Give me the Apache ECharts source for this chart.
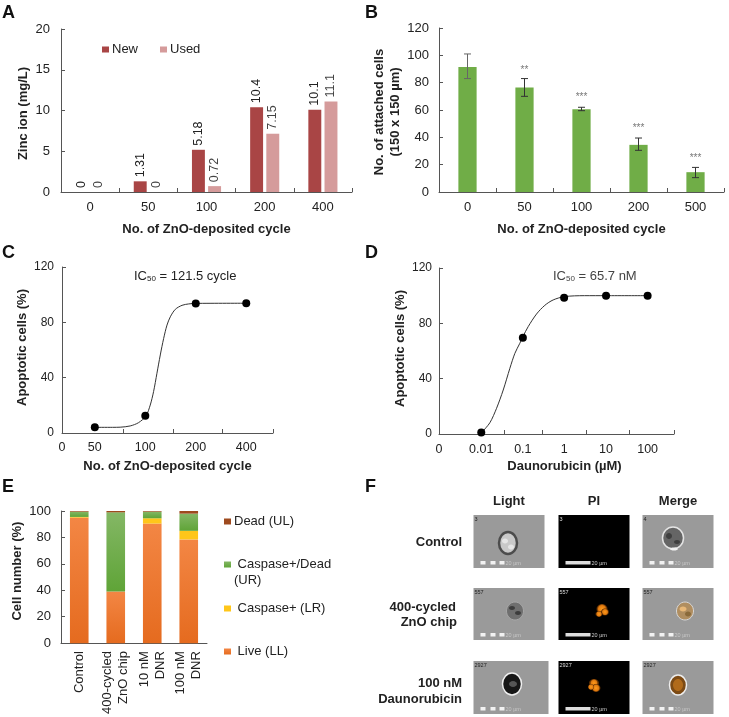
<!DOCTYPE html>
<html><head><meta charset="utf-8">
<style>html,body{margin:0;padding:0;background:#fff}#c{width:729px;height:717px}</style>
<script src="https://cdn.jsdelivr.net/npm/echarts@6/dist/echarts.min.js"></script>
</head><body><div id="c"></div>
<script>
// Panel A
const aCats = ['0','50','100','200','400'];
const aNew = [0,1.31,5.18,10.4,10.1];
const aUsed = [0,0,0.72,7.15,11.1];
// Panel B
const bCats = ['0','50','100','200','500'];
const bVals = [91.5,76.5,60.5,34.5,14.5];
const bLow = [83,70,59.5,30.5,10.5];
const bHigh = [101,83,62,39.5,18];
const bSig = ['','**','***','***','***'];
const bSigY = [null,89,69,46.5,25];
// Panel C (x = position on the drawn axis)
const cTickPos = [0,0.65,1.65,2.65,3.65];
const cTickLabels = ['0','50','100','200','400'];
const cMinorTicks = [0,1.22,2.2,3.18,4.18];
const cPoints = [[0.65,4.1],[1.65,12.5],[2.65,93.7],[3.65,93.8]];
const cCurve = [[0.65,4.1],[1.0,4.1],[1.152,4.2],[1.351,5.1],[1.517,7.5],[1.663,12.3],[1.748,20.2],[1.814,29.9],[1.881,43.2],[1.947,56.4],[2.014,68.4],[2.08,78],[2.146,84],[2.245,89.4],[2.378,92.3],[2.51,93.3],[2.65,93.7],[3.65,93.8]];
// Panel D
const dTickPos = [0,1.016,2.016,3.008,4.016,5.016];
const dTickLabels = ['0','0.01','0.1','1','10','100'];
const dMinorTicks = [0,1.56,2.48,3.54,4.58,5.65];
const dPoints = [[1.016,1],[2.016,69.5],[3.008,98.5],[4.016,100],[5.016,100]];
const dCurve = [[1.024,1],[1.224,8.2],[1.384,18.6],[1.544,31.8],[1.704,47.5],[1.824,58.3],[1.944,65.6],[2.016,70.3],[2.144,77.6],[2.344,86.7],[2.544,93],[2.744,96.9],[3.016,99.3],[3.5,100],[4.016,100],[5.016,100]];
// Panel E
const eCats = ['Control','400-cycled\nZnO chip','10 nM\nDNR','100 nM\nDNR'];
const eLive = [95,39,90.5,78.5];
const eLR = [0.5,0,4,6.5];
const eUR = [4,60,5,13];
const eUL = [0.5,1,0.5,2];

const FONT = '"Liberation Sans", Arial, sans-serif';
const INK = '#222';
const AX = '#555';

function yAxis(i, max, interval, name, nameGap, margin, fs, namePad){
  return {gridIndex:i,type:'value',min:0,max,interval,name,nameLocation:'middle',nameGap,
    nameTextStyle:{fontFamily:FONT,fontWeight:'bold',fontSize:13,color:INK,lineHeight:16,padding:namePad||0},
    axisLine:{show:true,lineStyle:{color:AX,width:1}},
    axisTick:{show:true,inside:true,length:4,lineStyle:{color:AX}},
    axisLabel:{margin,fontFamily:FONT,fontSize:fs||13,color:INK},splitLine:{show:false}};
}
function catAxis(i, data, name, nameGap, margin){
  return {gridIndex:i,type:'category',data,name,nameLocation:'middle',nameGap,
    nameTextStyle:{fontFamily:FONT,fontWeight:'bold',fontSize:13,color:INK},
    axisLine:{lineStyle:{color:AX,width:1}},
    axisTick:{show:true,inside:true,length:4,alignWithLabel:false,lineStyle:{color:AX}},
    axisLabel:{margin,fontFamily:FONT,fontSize:13,color:INK,interval:0},splitLine:{show:false}};
}
function posAxis(i, max, pos, labels, minor, name, nameGap, margin, namePad){
  return {gridIndex:i,type:'value',min:0,max,name,nameLocation:'middle',nameGap,
    nameTextStyle:{fontFamily:FONT,fontWeight:'bold',fontSize:13,color:INK,padding:namePad||0},
    axisLine:{lineStyle:{color:AX,width:1}},
    axisTick:{show:true,inside:true,length:4,customValues:minor,lineStyle:{color:AX}},
    axisLabel:{margin,fontFamily:FONT,fontSize:12.5,color:INK,customValues:pos,showMinLabel:true,showMaxLabel:true,
      formatter:v=>labels[pos.indexOf(v)]},
    splitLine:{show:false}};
}
function vGrad(top,bottom){return new echarts.graphic.LinearGradient(0,0,0,1,[{offset:0,color:top},{offset:1,color:bottom}]);}

const labelA = c=>({show:true,position:'top',rotate:90,align:'left',verticalAlign:'middle',distance:4,fontFamily:FONT,fontSize:12.5,color:c});

const series = [
  {name:'New',type:'bar',xAxisIndex:0,yAxisIndex:0,data:aNew,barGap:'25%',barCategoryGap:'50%',itemStyle:{color:'#A94545'},label:labelA('#222')},
  {name:'Used',type:'bar',xAxisIndex:0,yAxisIndex:0,data:aUsed,itemStyle:{color:'#D59B9B'},label:labelA('#444')},
  {name:'Attached',type:'bar',xAxisIndex:1,yAxisIndex:1,data:bVals,barCategoryGap:'68%',itemStyle:{color:'#70AD47'}},
  {name:'Error',type:'custom',xAxisIndex:1,yAxisIndex:1,z:5,data:bCats.map((c,i)=>[i,bLow[i],bHigh[i]]),
    renderItem(p,api){
      const lo=api.coord([api.value(0),api.value(1)]),hi=api.coord([api.value(0),api.value(2)]);
      const st={stroke:p.dataIndex===0?'#666':'#333',lineWidth:1,fill:null};
      const line=(x1,y1,x2,y2)=>({type:'line',shape:{x1,y1,x2,y2},style:st});
      return {type:'group',children:[line(lo[0],lo[1],hi[0],hi[1]),line(lo[0]-3.5,lo[1],lo[0]+3.5,lo[1]),line(hi[0]-3.5,hi[1],hi[0]+3.5,hi[1])]};
    }},
  {name:'Significance',type:'scatter',xAxisIndex:1,yAxisIndex:1,symbolSize:0,z:6,
    data:bSigY.map((y,i)=>({value:[i,y],sig:bSig[i]})),
    label:{show:true,position:'inside',fontFamily:FONT,fontSize:10,color:'#555',formatter:p=>p.data.sig}},
  {name:'C curve',type:'line',xAxisIndex:2,yAxisIndex:2,data:cCurve,smooth:0.3,showSymbol:false,lineStyle:{color:'#333',width:1}},
  {name:'C points',type:'scatter',xAxisIndex:2,yAxisIndex:2,data:cPoints,symbolSize:8,itemStyle:{color:'#000',opacity:1},z:4},
  {name:'D curve',type:'line',xAxisIndex:3,yAxisIndex:3,data:dCurve,smooth:0.3,showSymbol:false,lineStyle:{color:'#333',width:1}},
  {name:'D points',type:'scatter',xAxisIndex:3,yAxisIndex:3,data:dPoints,symbolSize:8,itemStyle:{color:'#000',opacity:1},z:4},
  {name:'Live (LL)',type:'bar',stack:'e',xAxisIndex:4,yAxisIndex:4,data:eLive,barCategoryGap:'49%',itemStyle:{color:vGrad('#F38644','#E56B1F')}},
  {name:'Caspase+ (LR)',type:'bar',stack:'e',xAxisIndex:4,yAxisIndex:4,data:eLR,itemStyle:{color:'#FFC61A'}},
  {name:'Caspase+/Dead (UR)',type:'bar',stack:'e',xAxisIndex:4,yAxisIndex:4,data:eUR,itemStyle:{color:vGrad('#84B765','#5FA437')}},
  {name:'Dead (UL)',type:'bar',stack:'e',xAxisIndex:4,yAxisIndex:4,data:eUL,itemStyle:{color:'#9E4A1E'}}
];

function lg(name,left,top,fmt,iw,gap){
  return {data:[].concat(name).map(n=>({name:n,icon:'rect'})),left,top,orient:'horizontal',itemWidth:iw||7,itemHeight:6,itemGap:gap||22,padding:0,selectedMode:false,
    textStyle:{fontFamily:FONT,fontSize:13,color:'#222',padding:[0,0,0,-2]},formatter:fmt};
}

// ---- non-data text and the micrograph panel (F) ----
const g = [];
function txt(s,x,y,o={}){
  g.push({type:'text',x,y,style:Object.assign({text:s,fontFamily:FONT,fontSize:13,fill:INK,textAlign:'left',textVerticalAlign:'middle'},o)});
}
[['A',2,13],['B',365,13],['C',2,253],['D',365,253],['E',2,487],['F',365,487]].forEach(a=>txt(a[0],a[1],a[2],{fontSize:18,fontWeight:'bold',fill:'#111'}));

function ic(unit,x,y,col){
  g.push({type:'text',x,y,style:{text:'{a|IC}{s|50}{a| = '+unit+'}',fontFamily:FONT,textVerticalAlign:'middle',textAlign:'left',
    rich:{a:{fontFamily:FONT,fontSize:13,fill:col,color:col},s:{fontFamily:FONT,fontSize:8,fill:col,color:col,verticalAlign:'bottom',padding:[6,0,0,0]}}}});
}
ic('121.5 cycle',134,276,'#222');
ic('65.7 nM',553,276,'#444');
txt('(UR)',234,580,{fontSize:13});

const rowsF = [
 {y:515,h:53,lbl:['3','3','4']},
 {y:588,h:52,lbl:['557','557','557']},
 {y:661,h:53,lbl:['2927','2927','2927']}
];
const colX = [473.5,558.5,642.5], colW = 71;
txt('Light',509,501,{fontSize:13,fontWeight:'bold',textAlign:'center'});
txt('PI',594,501,{fontSize:13,fontWeight:'bold',textAlign:'center'});
txt('Merge',678,501,{fontSize:13,fontWeight:'bold',textAlign:'center'});
txt('Control',462,542,{fontSize:13,fontWeight:'bold',textAlign:'right'});
txt('400-cycled',456,607,{fontSize:13,fontWeight:'bold',textAlign:'right'});
txt('ZnO chip',457,622,{fontSize:13,fontWeight:'bold',textAlign:'right'});
txt('100 nM',462,683,{fontSize:13,fontWeight:'bold',textAlign:'right'});
txt('Daunorubicin',462,699,{fontSize:13,fontWeight:'bold',textAlign:'right'});

function rect(x,y,w,h,fill){g.push({type:'rect',shape:{x,y,width:w,height:h},style:{fill}});}
function ell(cx,cy,rx,ry,fill,stroke,lw){g.push({type:'ellipse',shape:{cx,cy,rx,ry},style:{fill,stroke:stroke||null,lineWidth:lw||0}});}
rowsF.forEach((r,ri)=>{
  colX.forEach((x,ci)=>{
    const extra = (ri===2&&ci===0)?4:0;
    rect(x,r.y,colW+extra,r.h,ci===1?'#000':'#9a9a9a');
    txt(r.lbl[ci],x+1,r.y+4,{fontSize:5.5,fill:ci===1?'#ddd':'#222'});
    const by=r.y+r.h-6;
    if(ci===1){rect(x+7,by-1,25,3.5,'#ddd');txt('20 µm',x+33,by+1,{fontSize:5.5,fill:'#ccc'});}
    else{[7,17,26].forEach(d=>rect(x+d,by-1,5,3.5,'#f2f2f2'));txt('20 µm',x+32,by+1,{fontSize:5.5,fill:'#c8c8c8'});}
  });
});
// Light column cells
ell(508,543,9,11,'#c9c9c9','#4c4c4c',2.5);
ell(505,541,3,2.5,'#e6e6e6');ell(511,547,3,2.5,'#e6e6e6');
ell(515,611,8.5,9,'#6f6f6f','#a8a8a8',1);ell(512,608,3,2,'#3c3c3c');ell(518,613,3,2,'#3c3c3c');
ell(512,684,9.5,11,'#161616','#f0f0f0',1.5);ell(513,684,4,3,'#555');
// PI column cells
const orange = new echarts.graphic.RadialGradient(0.5,0.5,0.5,[{offset:0,color:'#ff9a1a'},{offset:0.7,color:'#e07a10'},{offset:1,color:'#5a2c00'}]);
ell(602,609,5.5,5,orange);ell(605,612,4,3.5,orange);ell(599,614,3.5,3,orange);
ell(594,683,5,4,orange);ell(596,688,4.5,4,orange);ell(591,687,3,3,orange);
// Merge column cells
ell(673,538,10.5,11,'#656565','#e4e4e4',1.5);ell(669,536,3,3,'#3f3f3f');ell(677,542,3,2,'#3f3f3f');ell(674,549,4,1.5,'#f2f2f2');
ell(685,611,8.5,9,'#b08e60','#d8d8d8',1);ell(683,609,3.5,2.5,'#e8b878');ell(688,614,3,2.5,'#8a6a3a');
ell(678,685,8.5,10,'#7c4a14','#eeeeee',1.5);ell(678,685,5,6,'#b06a1a');

const option = {
  animation:false,backgroundColor:'#fff',textStyle:{fontFamily:FONT},
  grid:[
    {left:61,top:29,width:291,height:163},
    {left:439,top:28,width:285,height:164},
    {left:62,top:267,width:211,height:166},
    {left:439,top:268,width:235,height:166},
    {left:61,top:511,width:146,height:133}
  ],
  xAxis:[
    catAxis(0,aCats,'No. of ZnO-deposited cycle',31,9),
    catAxis(1,bCats,'No. of ZnO-deposited cycle',31,9),
    posAxis(2,4.18,cTickPos,cTickLabels,cMinorTicks,'No. of ZnO-deposited cycle',27,8),
    posAxis(3,5.65,dTickPos,dTickLabels,dMinorTicks,'Daunorubicin (µM)',26,9,[0,0,0,16]),
    Object.assign(catAxis(4,eCats,'',0,8),{axisTick:{show:false},axisLabel:{rotate:90,margin:8,fontFamily:FONT,fontSize:13,color:INK,interval:0,lineHeight:16,align:'right',verticalAlign:'middle'}})
  ],
  yAxis:[
    yAxis(0,20,5,'Zinc ion (mg/L)',29,11,13,[0,6,0,0]),
    yAxis(1,120,20,'No. of attached cells\n(150 x 150 µm)',31,10,13,[0,4,0,0]),
    yAxis(2,120,40,'Apoptotic cells (%)',30,8,12,[0,0,0,5]),
    yAxis(3,120,40,'Apoptotic cells (%)',24,7,12,[0,0,0,5]),
    yAxis(4,100,20,'Cell number (%)',28,10,13,[0,0,0,12])
  ],
  legend:[
    lg(['New','Used'],102,43),
    lg('Dead (UL)',224,515),
    lg('Caspase+/Dead (UR)',224,558,()=>' Caspase+/Dead'),
    lg('Caspase+ (LR)',224,602,n=>' '+n),
    lg('Live (LL)',224,645,n=>' '+n)
  ],
  series,graphic:{elements:g}
};
const chart = echarts.init(document.getElementById('c'),null,{renderer:'canvas',width:729,height:717});
chart.setOption(option);
</script></body></html>
